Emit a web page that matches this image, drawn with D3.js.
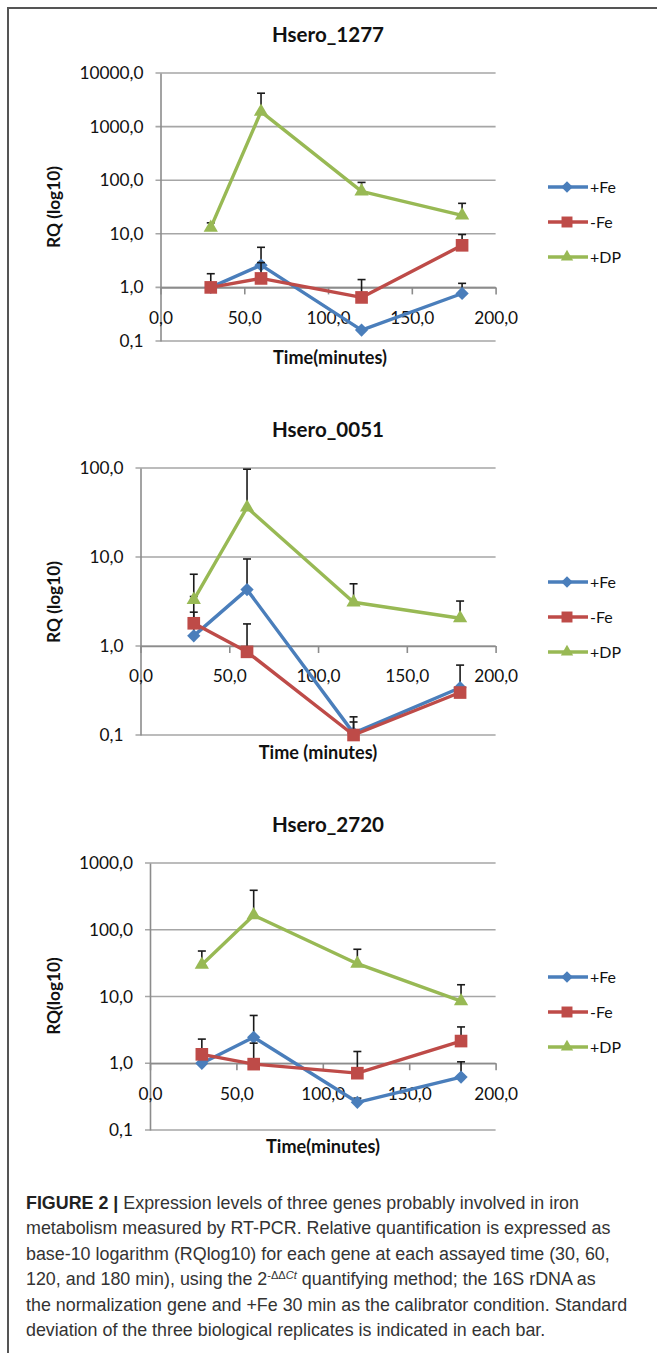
<!DOCTYPE html>
<html>
<head>
<meta charset="utf-8">
<script src="https://cdn.jsdelivr.net/npm/d3@7"></script>
<style>
  body { margin: 0; background: #fff; }
  svg { display: block; }
  .chart text { font-family: Lato, "Open Sans", sans-serif; fill: #111; }
  .caption text { font-family: "Liberation Sans", Arial, sans-serif; fill: #333; }
</style>
</head>
<body>
<svg width="657" height="1353"></svg>
<script>
// time points (minutes)
var times = [30, 60, 120, 180];
var seriesNames = ["+Fe", "-Fe", "+DP"];
var seriesColors = ["#4A7EBB", "#BE4B48", "#98B954"];

var titles = ["Hsero_1277", "Hsero_0051", "Hsero_2720"];
var xTitles = ["Time(minutes)", "Time (minutes)", "Time(minutes)"];
var yTitles = ["RQ (log10)", "RQ (log10)", "RQ(log10)"];
var xTicks = [0, 50, 100, 150, 200];
var yTicks1277 = [0.1, 1, 10, 100, 1000, 10000];
var yTicks0051 = [0.1, 1, 10, 100];
var yTicks2720 = [0.1, 1, 10, 100, 1000];

// Hsero_1277 : mean RQ and top of the error bar
var fe1277 = [1.0, 2.6, 0.16, 0.77];
var feHi1277 = [1.0, 5.6, 0.16, 1.19];
var noFe1277 = [1.0, 1.47, 0.65, 6.1];
var noFeHi1277 = [1.8, 2.9, 1.4, 9.7];
var dp1277 = [13, 1900, 62, 22];
var dpHi1277 = [16, 4200, 91, 37];

// Hsero_0051
var fe0051 = [1.3, 4.3, 0.105, 0.34];
var feHi0051 = [3.6, 9.5, 0.16, 0.61];
var noFe0051 = [1.8, 0.86, 0.1, 0.3];
var noFeHi0051 = [2.4, 1.77, 0.14, 0.3];
var dp0051 = [3.3, 36, 3.1, 2.05];
var dpHi0051 = [6.4, 97, 5.0, 3.2];

// Hsero_2720
var fe2720 = [1.0, 2.45, 0.26, 0.62];
var feHi2720 = [1.0, 5.2, 0.3, 1.05];
var noFe2720 = [1.36, 0.97, 0.71, 2.15];
var noFeHi2720 = [2.3, 2.0, 1.5, 3.5];
var dp2720 = [30, 165, 31, 8.5];
var dpHi2720 = [48, 390, 51, 15];

var caption = [
  "FIGURE 2 | Expression levels of three genes probably involved in iron",
  "metabolism measured by RT-PCR. Relative quantification is expressed as",
  "base-10 logarithm (RQlog10) for each gene at each assayed time (30, 60,",
  "120, and 180 min), using the 2^-\u0394\u0394Ct quantifying method; the 16S rDNA as",
  "the normalization gene and +Fe 30 min as the calibrator condition. Standard",
  "deviation of the three biological replicates is indicated in each bar."
];

var panels = [
  { title: titles[0], xTitle: xTitles[0], yTitle: yTitles[0], yTicks: yTicks1277,
    values: [fe1277, noFe1277, dp1277], hi: [feHi1277, noFeHi1277, dpHi1277],
    left: 160.5, top: 73, bottom: 341, titleY: 35, xTitleY: 358, xTitleX: 330, yTitleY: 207, legendY: 187 },
  { title: titles[1], xTitle: xTitles[1], yTitle: yTitles[1], yTicks: yTicks0051,
    values: [fe0051, noFe0051, dp0051], hi: [feHi0051, noFeHi0051, dpHi0051],
    left: 140.5, top: 468, bottom: 735, titleY: 430, xTitleY: 753, xTitleX: 318, yTitleY: 602, legendY: 582 },
  { title: titles[2], xTitle: xTitles[2], yTitle: yTitles[2], yTicks: yTicks2720,
    values: [fe2720, noFe2720, dp2720], hi: [feHi2720, noFeHi2720, dpHi2720],
    left: 150, top: 863, bottom: 1130, titleY: 825, xTitleY: 1147, xTitleX: 323, yTitleY: 996, legendY: 977 }
];

var svg = d3.select("svg");
var right = 495.6;
var fmt = function(d) { return d3.format(".1f")(d).replace(".", ","); };

// font size that gives a string the width it has in the figure
function fitSize(str, cls, weight, target) {
  var t = svg.append("g").attr("class", cls).append("text")
    .style("font-size", "20px").style("font-weight", weight).text(str);
  var w = t.node().getComputedTextLength();
  t.node().parentNode.remove();
  return 20 * target / w;
}
var titleSize = fitSize(titles[0], "chart", "bold", 112);
var xTitleSize = fitSize(xTitles[0], "chart", "bold", 114);
var yTitleSize = fitSize(yTitles[0], "chart", "bold", 82);
var tickSize = fitSize("10000,0", "chart", "normal", 64);
var legendSize = fitSize("+DP", "chart", "normal", 31);
var captionSize = fitSize(caption[1], "caption", "normal", 585);

// frame
svg.append("path")
  .attr("d", "M8,1353V8H657")
  .attr("fill", "none")
  .attr("stroke", "#555")
  .attr("stroke-width", 2);

function marker(g, i, size) {
  if (i === 0) {
    return g.append("path")
      .attr("d", d3.symbol(d3.symbolSquare, size * 0.55))
      .attr("transform", "rotate(45)");
  }
  if (i === 1) return g.append("path").attr("d", d3.symbol(d3.symbolSquare, size));
  return g.append("path").attr("d", d3.symbol(d3.symbolTriangle, size * 0.55));
}

panels.forEach(function(p) {
  var g = svg.append("g").attr("class", "chart");
  var yMax = p.yTicks[p.yTicks.length - 1];

  var x = d3.scaleLinear().domain([0, 200]).range([p.left, right]);
  var y = d3.scaleLog().domain([0.1, yMax]).range([p.bottom, p.top]);

  // title
  g.append("text")
    .attr("x", 328).attr("y", p.titleY)
    .attr("dy", "0.35em")
    .attr("text-anchor", "middle")
    .style("font-size", titleSize + "px").style("font-weight", "bold")
    .text(p.title);

  // gridlines
  g.append("g").selectAll("line")
    .data(p.yTicks)
    .enter().append("line")
    .attr("x1", p.left - 5).attr("x2", right)
    .attr("y1", function(d) { return y(d); })
    .attr("y2", function(d) { return y(d); })
    .attr("stroke", "#a6a6a6").attr("stroke-width", 1.6);

  // y axis
  var yAxis = g.append("g")
    .attr("transform", "translate(" + p.left + ",0)")
    .call(d3.axisLeft(y).tickValues(p.yTicks).tickFormat(fmt).tickSize(0).tickPadding(17));
  yAxis.select(".domain").attr("stroke", "#8c8c8c").attr("stroke-width", 1.6);
  yAxis.selectAll("text").style("font-size", tickSize + "px").attr("fill", "#111");

  // x axis crossing at 1,0
  var xAxis = g.append("g")
    .attr("transform", "translate(0," + y(1) + ")")
    .call(d3.axisBottom(x).tickValues(xTicks).tickFormat(fmt).tickSize(7).tickPadding(17).tickSizeOuter(0));
  xAxis.select(".domain").attr("stroke", "#8c8c8c").attr("stroke-width", 1.6);
  xAxis.selectAll(".tick line").attr("stroke", "#8c8c8c").attr("stroke-width", 1.6);
  xAxis.selectAll("text").style("font-size", tickSize + "px").attr("fill", "#111");

  // axis titles
  g.append("text")
    .attr("x", p.xTitleX).attr("y", p.xTitleY)
    .attr("dy", "0.35em").attr("text-anchor", "middle")
    .style("font-size", xTitleSize + "px").style("font-weight", "bold")
    .text(p.xTitle);

  g.append("text")
    .attr("transform", "translate(54," + p.yTitleY + ") rotate(-90)")
    .attr("dy", "0.35em").attr("text-anchor", "middle")
    .style("font-size", yTitleSize + "px").style("font-weight", "bold")
    .text(p.yTitle);

  var line = d3.line()
    .x(function(d) { return x(d.t); })
    .y(function(d) { return y(d.v); });

  p.values.forEach(function(vals, i) {
    var data = times.map(function(t, k) { return { t: t, v: vals[k], hi: p.hi[i][k] }; });
    var s = g.append("g");

    // error bars (upper only)
    var eb = s.selectAll(".err").data(data.filter(function(d) { return d.hi > d.v; }))
      .enter().append("g").attr("class", "err");
    eb.append("line")
      .attr("x1", function(d) { return x(d.t); }).attr("x2", function(d) { return x(d.t); })
      .attr("y1", function(d) { return y(d.v); }).attr("y2", function(d) { return y(d.hi); });
    eb.append("line")
      .attr("x1", function(d) { return x(d.t) - 4; }).attr("x2", function(d) { return x(d.t) + 4; })
      .attr("y1", function(d) { return y(d.hi); }).attr("y2", function(d) { return y(d.hi); });
    eb.selectAll("line").attr("stroke", "#1a1a1a").attr("stroke-width", 1.6);

    s.append("path")
      .datum(data)
      .attr("d", line)
      .attr("fill", "none")
      .attr("stroke", seriesColors[i])
      .attr("stroke-width", 3.4)
      .attr("stroke-linejoin", "round");

    data.forEach(function(d) {
      var m = s.append("g").attr("transform", "translate(" + x(d.t) + "," + y(d.v) + ")");
      marker(m, i, 160).attr("fill", seriesColors[i]);
    });

    // legend
    var ly = p.legendY + i * 35;
    var lg = g.append("g").attr("transform", "translate(548," + ly + ")");
    lg.append("line").attr("x1", 0).attr("x2", 40)
      .attr("stroke", seriesColors[i]).attr("stroke-width", 3.4);
    var lm = lg.append("g").attr("transform", "translate(19,0)");
    marker(lm, i, 120).attr("fill", seriesColors[i]);
    lg.append("text")
      .attr("x", 42).attr("dy", "0.35em")
      .style("font-size", legendSize + "px")
      .text(seriesNames[i]);
  });
});

// caption
var cap = svg.append("g").attr("class", "caption");
caption.forEach(function(str, i) {
  var t = cap.append("text")
    .attr("x", 26).attr("y", 1209 + i * 25.4)
    .style("font-size", captionSize + "px");
  if (i === 0) {
    t.append("tspan").style("font-weight", "bold").attr("fill", "#222").text("FIGURE 2 |");
    t.append("tspan").text(str.slice(10));
  } else if (str.indexOf("^") >= 0) {
    var a = str.split("^");
    var rest = a[1].split(" ");
    t.append("tspan").text(a[0]);
    t.append("tspan").attr("dy", -6).style("font-size", "0.62em").text("-\u0394\u0394");
    t.append("tspan").style("font-size", "0.62em").style("font-style", "italic").text("Ct");
    t.append("tspan").attr("dy", 6).text(" " + rest.slice(1).join(" "));
  } else {
    t.text(str);
  }
});
</script>
</body>
</html>
